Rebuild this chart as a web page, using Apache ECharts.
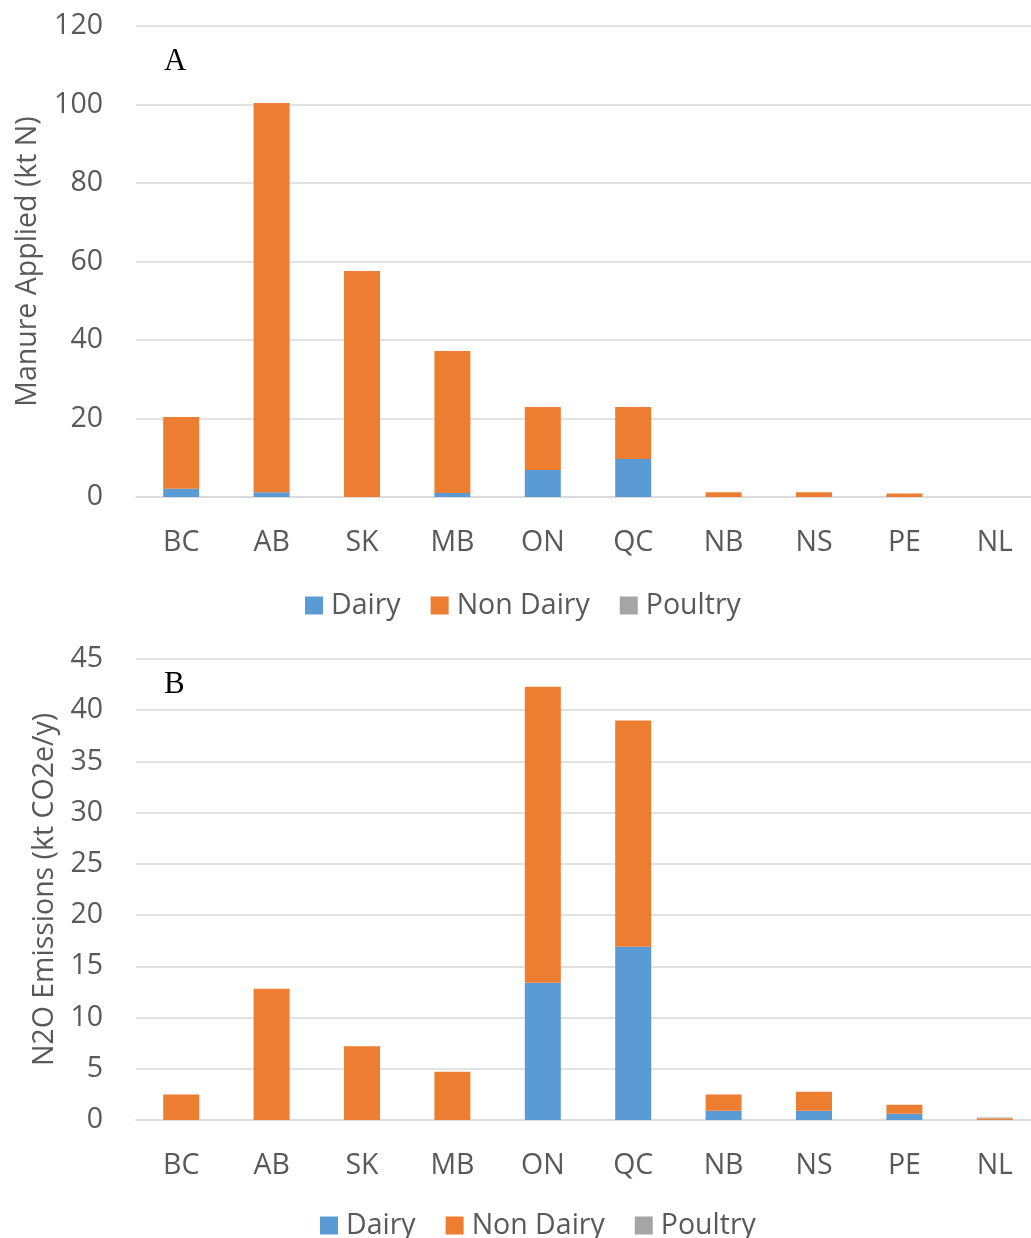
<!DOCTYPE html>
<html>
<head>
<meta charset="utf-8">
<title>Manure applied and N2O emissions by province</title>
<script src="https://cdn.jsdelivr.net/npm/echarts@6/dist/echarts.min.js"></script>
<style>
  html, body { margin: 0; padding: 0; background: #ffffff; }
  #chart { width: 1031px; height: 1238px; }
</style>
</head>
<body>
<div id="chart"></div>
<script>
// Provinces on the category axis
const categories = ['BC', 'AB', 'SK', 'MB', 'ON', 'QC', 'NB', 'NS', 'PE', 'NL'];

// Panel A: manure applied (kt N)
const manureDairy    = [2.1, 1.2, 0, 1.0, 6.9, 9.7, 0, 0, 0, 0];
const manureNonDairy = [18.3, 99.2, 57.6, 36.2, 16.0, 13.2, 1.2, 1.2, 0.9, 0];
const manurePoultry  = [0, 0, 0, 0, 0, 0, 0, 0, 0, 0];

// Panel B: N2O emissions (kt CO2e/y)
const n2oDairy    = [0, 0, 0, 0, 13.4, 16.9, 0.9, 0.9, 0.6, 0];
const n2oNonDairy = [2.5, 12.8, 7.2, 4.7, 28.9, 22.1, 1.6, 1.85, 0.9, 0.15];
const n2oPoultry  = [0, 0, 0, 0, 0, 0, 0, 0, 0, 0.1];

// Axis ranges
const manureTicks = { min: 0, max: 120, interval: 20 };
const n2oTicks    = { min: 0, max: 45, interval: 5 };

const legendNames = ['Dairy', 'Non Dairy', 'Poultry'];
const colors = { 'Dairy': '#5B9BD5', 'Non Dairy': '#ED7D31', 'Poultry': '#A5A5A5' };

const FONT = '"Open Sans", "DejaVu Sans", sans-serif';
const FONT_SIZE = 28.5;
const GREY = '#595959';
const GRID_LINE = '#d9d9d9';

function xAxisFor(gridIndex) {
  return {
    type: 'category',
    gridIndex: gridIndex,
    data: categories,
    axisTick: { show: false },
    axisLine: { lineStyle: { color: GRID_LINE, width: 1.5 } },
    axisLabel: { color: GREY, fontFamily: FONT, fontSize: FONT_SIZE, margin: 31 }
  };
}

function yAxisFor(gridIndex, ticks, name, gap) {
  return {
    type: 'value',
    gridIndex: gridIndex,
    min: ticks.min,
    max: ticks.max,
    interval: ticks.interval,
    name: name,
    nameLocation: 'middle',
    nameGap: gap,
    nameTextStyle: { color: GREY, fontFamily: FONT, fontSize: FONT_SIZE },
    axisLine: { show: false },
    axisTick: { show: false },
    axisLabel: { color: GREY, fontFamily: FONT, fontSize: FONT_SIZE, margin: 33 },
    splitLine: { lineStyle: { color: GRID_LINE, width: 1.5 } }
  };
}

function barSeries(name, data, axisIndex, stack) {
  return {
    name: name,
    type: 'bar',
    stack: stack,
    xAxisIndex: axisIndex,
    yAxisIndex: axisIndex,
    data: data,
    barWidth: 36,
    itemStyle: { color: colors[name] },
    emphasis: { disabled: true }
  };
}

function legendAt(left, top) {
  return {
    data: legendNames,
    left: left,
    top: top,
    icon: 'rect',
    itemWidth: 18,
    itemHeight: 18,
    itemGap: 30,
    textStyle: { color: GREY, fontFamily: FONT, fontSize: FONT_SIZE, padding: [0, 0, 0, 3] }
  };
}

const chart = echarts.init(document.getElementById('chart'), null, { renderer: 'canvas' });

// The plot area runs a little past the right edge of the canvas, so the
// grid is allowed to extend beyond the container bounds.
chart.setOption({
  animation: false,
  backgroundColor: '#ffffff',
  grid: [
    { left: 136, width: 904, top: 26, height: 471, outerBoundsMode: 'none' },
    { left: 136, width: 904, top: 659, height: 461, outerBoundsMode: 'none' }
  ],
  xAxis: [xAxisFor(0), xAxisFor(1)],
  yAxis: [
    yAxisFor(0, manureTicks, 'Manure Applied (kt N)', 94),
    yAxisFor(1, n2oTicks, 'N2O Emissions (kt CO2e/y)', 77)
  ],
  legend: [legendAt(300, 586), legendAt(315, 1206)],
  series: [
    barSeries('Dairy', manureDairy, 0, 'a'),
    barSeries('Non Dairy', manureNonDairy, 0, 'a'),
    barSeries('Poultry', manurePoultry, 0, 'a'),
    barSeries('Dairy', n2oDairy, 1, 'b'),
    barSeries('Non Dairy', n2oNonDairy, 1, 'b'),
    barSeries('Poultry', n2oPoultry, 1, 'b')
  ],
  graphic: [
    { type: 'text', left: 164, top: 46,
      style: { text: 'A', font: '31px "Liberation Serif", "DejaVu Serif", serif', fill: '#000000' } },
    { type: 'text', left: 164, top: 669,
      style: { text: 'B', font: '31px "Liberation Serif", "DejaVu Serif", serif', fill: '#000000' } }
  ]
});
</script>
</body>
</html>
